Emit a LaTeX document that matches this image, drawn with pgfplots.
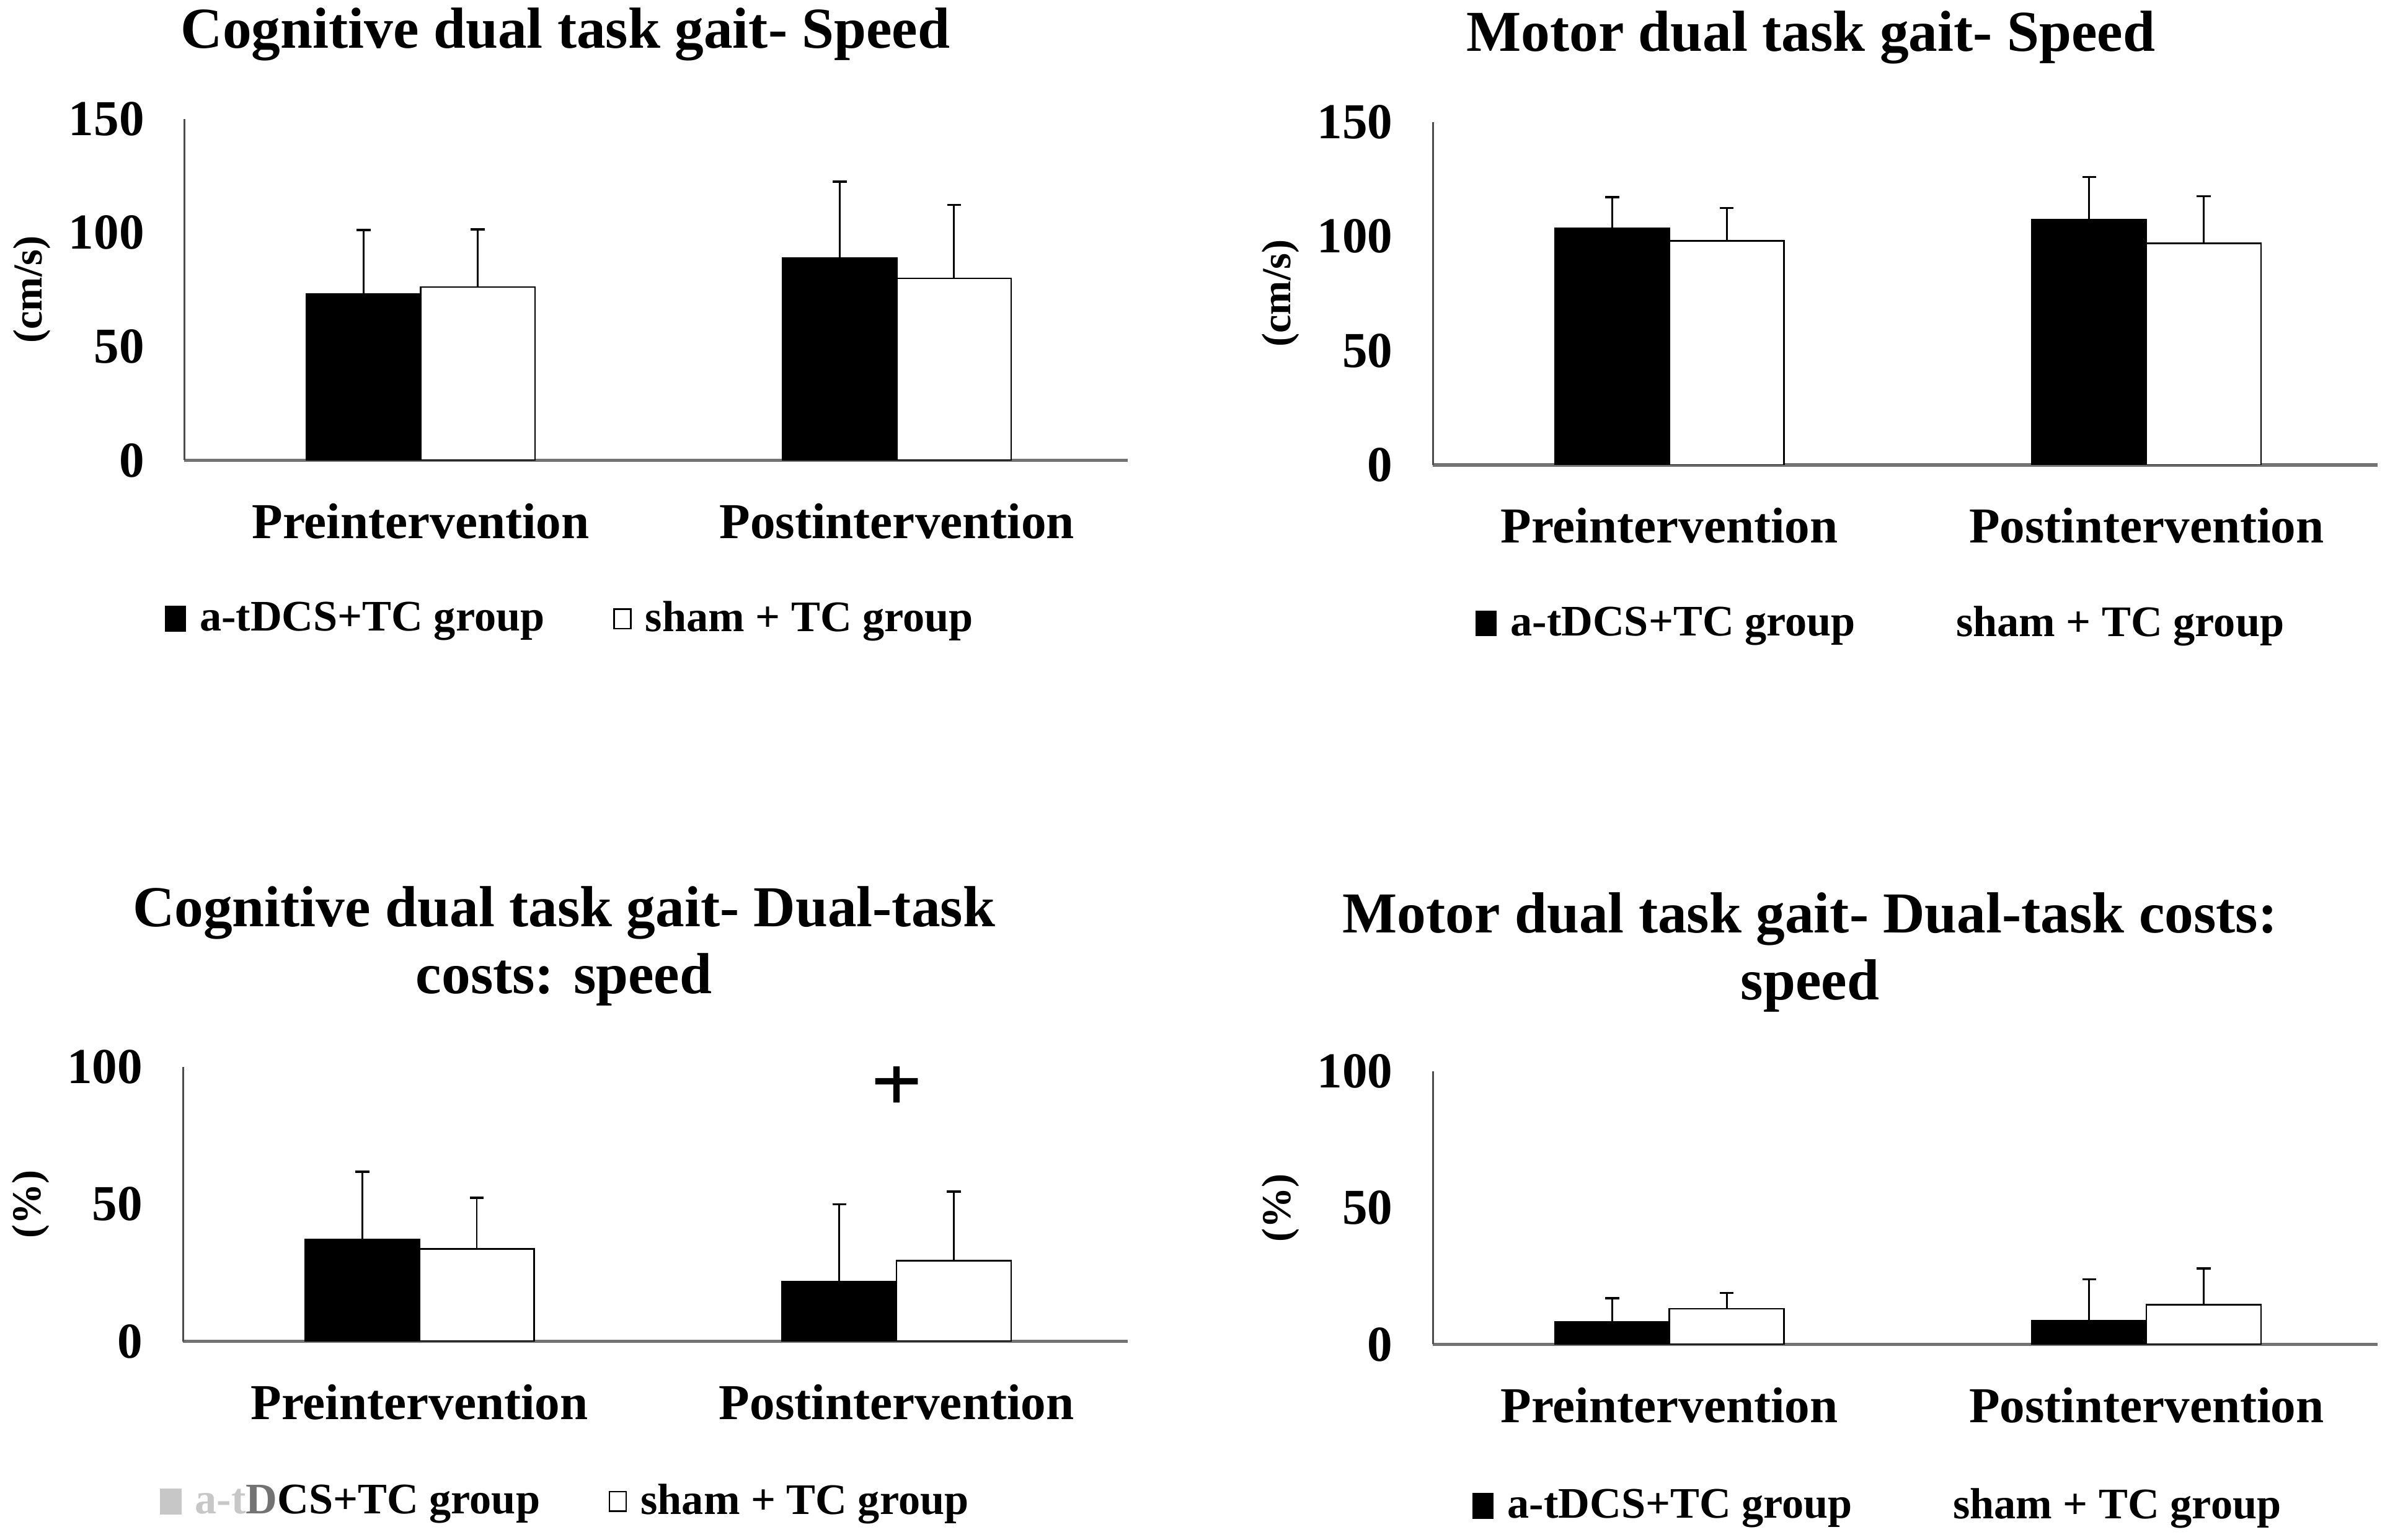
\documentclass[border=0pt]{standalone}
\usepackage{fontspec}
\setmainfont{Liberation Serif}
\usepackage{pgfplots}
\pgfplotsset{compat=1.18}
\usetikzlibrary{calc}

\pgfplotsset{
 panel/.style={
  scale only axis, axis lines=left, axis line style={-},
  x axis line style={draw=black!55, line width=1.1pt},
  y axis line style={draw=black!70, line width=0.6pt},
  xmin=-0.496, xmax=1.485, ymin=0,
  xtick={0,1}, xticklabels={Preintervention,Postintervention},
  major tick length=0pt, minor tick num=0,
  /pgf/number format/assume math mode=true,
  tick label style={font=\bfseries\fontsize{16.5}{18}\selectfont, inner sep=0pt},
  xticklabel style={anchor=north, yshift=-14pt},
  yticklabel style={anchor=east, xshift=-13pt},
  every axis y label/.style={at={($(axis description cs:0,0.5)+(-50pt,0)$)}, anchor=center, rotate=90, inner sep=0pt, font=\bfseries\fontsize{13.5}{15}\selectfont},
  every axis title/.style={at={(axis description cs:0,1)}, anchor=south, inner sep=0pt, align=center, font=\bfseries\fontsize{19}{22}\selectfont},
  legend columns=2,
  legend cell align=left,
  legend style={at={(axis description cs:0,0)}, anchor=west, draw=none, fill=none, inner sep=0pt, outer sep=0pt, column sep=4.5pt, font=\bfseries\fontsize{14.3}{16}\selectfont, nodes={inner sep=0pt}, /tikz/every even column/.append style={column sep=22.5pt}},
 },
 barcommon/.style={ybar, bar width=0.24, bar shift=0pt, line width=0.5pt,
  error bars/y dir=plus, error bars/y explicit,
  error bars/error mark=|,
  error bars/error bar style={black, line width=0.6pt},
  error bars/error mark options={black, line width=0.7pt, mark size=2.3pt}},
 abar/.style={barcommon, fill=black, draw=black,
  legend image code/.code={\fill[black] (0pt,-4pt) rectangle (6.5pt,4pt);}},
 sbar/.style={barcommon, fill=white, draw=black,
  legend image code/.code={\draw[black, line width=0.5pt, fill=white] (0pt,-3.2pt) rectangle (5.5pt,3.2pt);}},
 sbarnobox/.style={barcommon, fill=white, draw=black,
  legend image code/.code={\fill[white] (0pt,-3.2pt) rectangle (5.5pt,3.2pt);}},
}

\begin{document}
\begin{tikzpicture}
\useasboundingbox (0,0) rectangle (784pt,505pt);

% Top left
\begin{axis}[panel, at={(60.5pt,354pt)}, anchor=south west,
  width=309.5pt, height=112pt, ymax=150, ytick={0,50,100,150},
  ylabel={(cm/s)}, title={Cognitive dual task gait- Speed},
  title style={xshift=125pt, yshift=18.8pt},
  legend style={xshift=-6.5pt, yshift=-52pt}]
\addplot[abar] table[x=x, y=y, y error=e] {
x y e
-0.12 73.0 28.2
0.88 88.8 33.6
};
\addlegendentry{a-tDCS+TC group}
\addplot[sbar] table[x=x, y=y, y error=e] {
x y e
0.12 76.1 25.3
1.12 79.9 32.3
};
\addlegendentry{sham + TC group}
\end{axis}

% Top right
\begin{axis}[panel, at={(470pt,352.5pt)}, anchor=south west,
  width=310pt, height=112.5pt, ymax=150, ytick={0,50,100,150},
  ylabel={(cm/s)}, title={Motor dual task gait- Speed},
  title style={xshift=124pt, yshift=18.8pt},
  legend style={xshift=14pt, yshift=-52pt}]
\addplot[abar] table[x=x, y=y, y error=e] {
x y e
-0.12 103.6 13.5
0.88 107.4 18.5
};
\addlegendentry{a-tDCS+TC group}
\addplot[sbarnobox] table[x=x, y=y, y error=e] {
x y e
0.12 98.0 14.4
1.12 96.9 20.6
};
\addlegendentry{sham + TC group}
\end{axis}

% Bottom left
\begin{axis}[panel, at={(60pt,65pt)}, anchor=south west,
  width=310pt, height=90pt, ymax=100, ytick={0,50,100},
  ylabel={(\%)}, title={Cognitive dual task gait- Dual-task\\costs: speed},
  title style={xshift=125pt, yshift=19.8pt},
  legend style={xshift=-7.5pt, yshift=-52.5pt}]
\addplot[barcommon, fill=black, draw=black,
  legend image code/.code={\fill[black!22] (0pt,-4pt) rectangle (6.5pt,4pt);}]
  table[x=x, y=y, y error=e] {
x y e
-0.12 37.2 24.6
0.88 21.7 28.3
};
\addlegendentry{\textcolor{black!22}{a-t}\textcolor{black!55}{D}CS+TC group}
\addplot[sbar] table[x=x, y=y, y error=e] {
x y e
0.12 33.7 18.6
1.12 29.4 25.2
};
\addlegendentry{sham + TC group}
\node[font=\bfseries\fontsize{30}{32}\selectfont, inner sep=0pt] at (axis cs:1,93) {+};
\end{axis}

% Bottom right
\begin{axis}[panel, at={(470pt,64pt)}, anchor=south west,
  width=310pt, height=89.5pt, ymax=100, ytick={0,50,100},
  ylabel={(\%)}, title={Motor dual task gait- Dual-task costs:\\speed},
  title style={xshift=123.75pt, yshift=19.3pt},
  legend style={xshift=13pt, yshift=-53pt}]
\addplot[abar] table[x=x, y=y, y error=e] {
x y e
-0.12 8.3 8.6
0.88 8.6 15.3
};
\addlegendentry{a-tDCS+TC group}
\addplot[sbarnobox] table[x=x, y=y, y error=e] {
x y e
0.12 13.0 5.9
1.12 14.5 13.3
};
\addlegendentry{sham + TC group}
\end{axis}
\end{tikzpicture}
\end{document}
